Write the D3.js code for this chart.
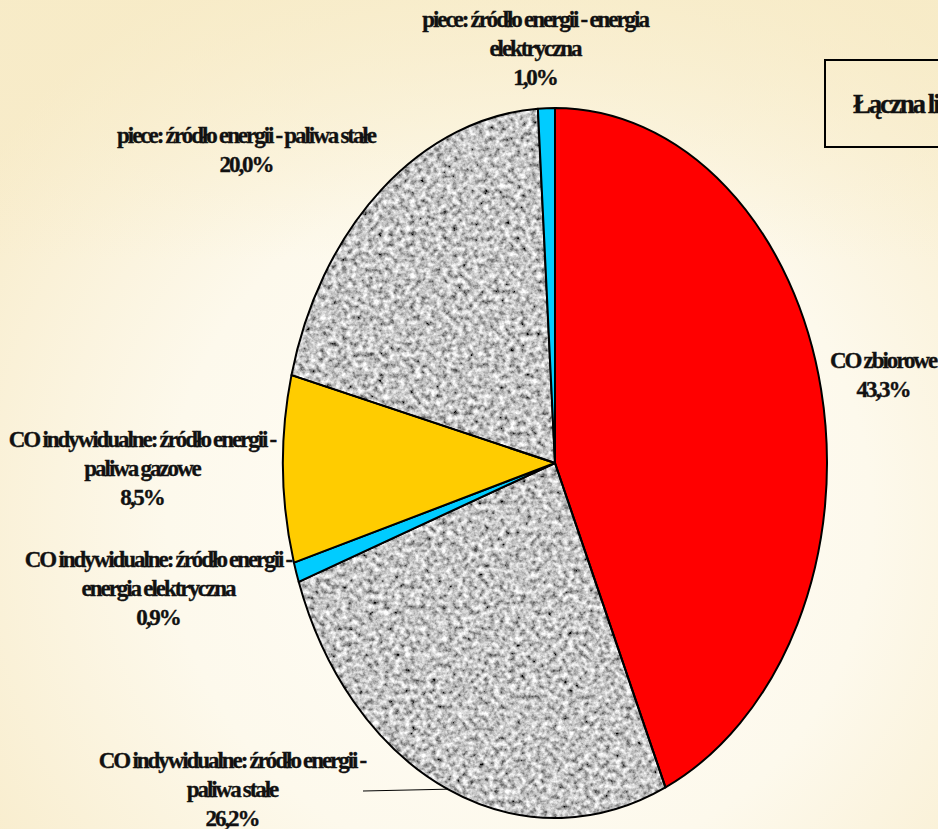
<!DOCTYPE html>
<html lang="pl">
<head>
<meta charset="utf-8">
<script src="https://cdn.jsdelivr.net/npm/d3@7"></script>
<style>
  html, body { margin: 0; padding: 0; background: #fcf8ea; overflow: hidden; }
  svg { display: block; }
  .lbl { font-family: "Liberation Serif", "Times New Roman", serif; font-weight: bold; font-size: 23px; letter-spacing: -2.05px; word-spacing: -0.5px; fill: #111; stroke: #111; stroke-width: 0.35px; }
  .box-title { font-size: 27px; letter-spacing: -2.2px; }
</style>
</head>
<body>
<svg id="chart" width="938" height="829"></svg>
<script>
// Struktura ogrzewania mieszkań – udziały procentowe
const categories = [
  "CO zbiorowe",
  "CO indywidualne: źródło energii - paliwa stałe",
  "CO indywidualne: źródło energii - energia elektryczna",
  "CO indywidualne: źródło energii - paliwa gazowe",
  "piece: źródło energii - paliwa stałe",
  "piece: źródło energii - energia elektryczna"
];
const shares = [43.3, 26.2, 0.9, 8.5, 20.0, 1.0];
const sliceColors = ["#ff0000", "granite", "#00ccff", "#ffcc00", "granite", "#00ccff"];
const labelLines = [
  ["CO zbiorowe"],
  ["CO indywidualne: źródło energii -", "paliwa stałe"],
  ["CO indywidualne: źródło energii -", "energia elektryczna"],
  ["CO indywidualne: źródło energii -", "paliwa gazowe"],
  ["piece: źródło energii - paliwa stałe"],
  ["piece: źródło energii - energia", "elektryczna"]
];
const boxTitle = "Łączna liczba";

// layout
const W = 938, H = 829;
const cx = 555, cy = 463, rx = 272, ry = 355;
const R = 100;
// label anchor (centre x, first baseline)
const labelPos = [
  [883, 368], [232, 768], [158, 567], [142, 447], [246, 143], [535, 27]
];
const lineH = 29;

const fmt = v => d3.format(".1f")(v).replace(".", ",") + "%";

const svg = d3.select("#chart");
const defs = svg.append("defs");

// background wash
const bg = defs.append("radialGradient").attr("id", "bgGrad")
  .attr("gradientUnits", "userSpaceOnUse")
  .attr("cx", 520).attr("cy", 520).attr("r", 640);
bg.append("stop").attr("offset", "0").attr("stop-color", "#fffefa");
bg.append("stop").attr("offset", "0.55").attr("stop-color", "#fdf9ec");
bg.append("stop").attr("offset", "1").attr("stop-color", "#f8eccb");
svg.append("rect").attr("width", W).attr("height", H).attr("fill", "url(#bgGrad)");
const topWash = defs.append("linearGradient").attr("id", "topWash")
  .attr("x1", 0).attr("y1", 0).attr("x2", 0).attr("y2", 1);
topWash.append("stop").attr("offset", "0").attr("stop-color", "#f7ebc6").attr("stop-opacity", 0.7);
topWash.append("stop").attr("offset", "1").attr("stop-color", "#f7ebc6").attr("stop-opacity", 0);
svg.append("rect").attr("width", W).attr("height", 260).attr("fill", "url(#topWash)");

// granite texture
const f = defs.append("filter").attr("id", "granite")
  .attr("filterUnits", "userSpaceOnUse")
  .attr("x", 0).attr("y", 0).attr("width", W).attr("height", H);
f.append("feTurbulence").attr("type", "fractalNoise").attr("baseFrequency", 0.19)
  .attr("numOctaves", 3).attr("seed", 7).attr("result", "n");
f.append("feColorMatrix").attr("type", "matrix")
  .attr("values", "1.6 0 0 0 -0.24  1.6 0 0 0 -0.24  1.6 0 0 0 -0.24  0 0 0 0 1")
  .attr("result", "g");
f.append("feGaussianBlur").attr("stdDeviation", 0.7);

const pie = d3.pie().sort(null).value(d => d)(shares);
const arc = d3.arc().innerRadius(0).outerRadius(R);
const squash = `translate(${cx},${cy}) scale(${rx / R},${ry / R})`;

pie.forEach((p, i) => {
  if (sliceColors[i] === "granite") {
    defs.append("clipPath").attr("id", "clip" + i)
      .append("path").attr("d", arc(p)).attr("transform", squash);
    svg.append("rect").attr("width", W).attr("height", H)
      .attr("filter", "url(#granite)").attr("clip-path", `url(#clip${i})`);
  }
});

svg.append("g").selectAll("path").data(pie).join("path")
  .attr("d", arc)
  .attr("transform", squash)
  .attr("fill", (d, i) => sliceColors[i] === "granite" ? "none" : sliceColors[i])
  .attr("stroke", "#000")
  .attr("stroke-width", 2)
  .attr("stroke-linejoin", "round")
  .attr("vector-effect", "non-scaling-stroke");

// leader line for the lower label, ending on the slice's mid-angle rim
const lp = pie[1];
const la = (lp.startAngle + lp.endAngle) / 2;
svg.append("line")
  .attr("x1", 363).attr("y1", 791)
  .attr("x2", cx + rx * Math.sin(la)).attr("y2", cy - ry * Math.cos(la))
  .attr("stroke", "#000").attr("stroke-width", 1);

// slice labels
labelLines.forEach((lines, i) => {
  const [x, y] = labelPos[i];
  const t = svg.append("text").attr("class", "lbl").attr("text-anchor", "middle");
  lines.concat([fmt(shares[i])]).forEach((s, k) => {
    t.append("tspan").attr("x", x).attr("y", y + k * lineH).text(s);
  });
});

// title box (runs off the right edge)
svg.append("rect").attr("x", 825).attr("y", 60).attr("width", 200).attr("height", 87)
  .attr("fill", "none").attr("stroke", "#000").attr("stroke-width", 2);
svg.append("text").attr("class", "lbl box-title").attr("x", 853).attr("y", 113).text(boxTitle);
</script>
</body>
</html>
